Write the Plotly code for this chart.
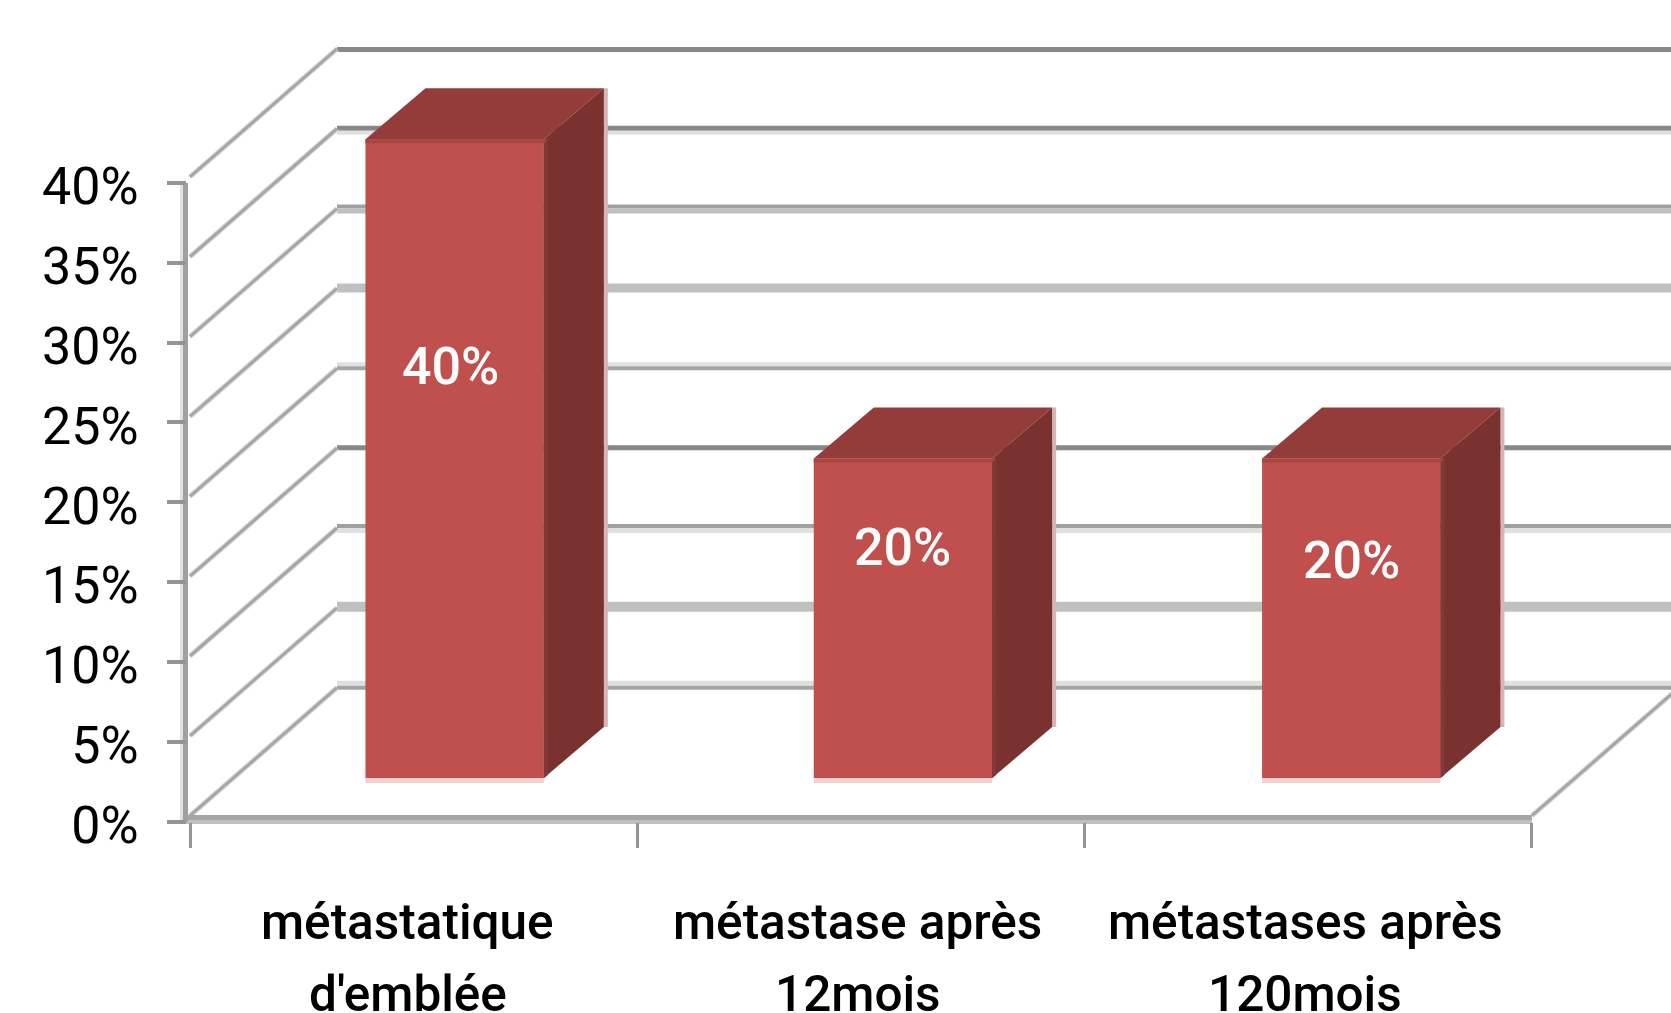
import plotly.graph_objects as go

categories = [["métastatique", "d'emblée"], ["métastase après", "12mois"], ["métastases après", "120mois"]]
values = [40, 20, 20]
value_labels = ["40%", "20%", "20%"]
label_heights = [28.5, 17.2, 16.35]
label_shifts = [-4, 0, 0]
category_shifts = [-6, -3, -3]
y_ticks = [0, 5, 10, 15, 20, 25, 30, 35, 40]

W, H = 1671, 1013
PX_X0, PX_CAT = 190.0, 447.3
PX_Y0, PX_PCT = 821.7, 15.97

# wall depth and bar placement, in axis units
WALL_DX, WALL_DY = 147 / PX_CAT, 134 / PX_PCT
BAR_W, BAR_OFF = 178.4 / PX_CAT, 41 / PX_CAT
BAR_DX, BAR_DY = 60 / PX_CAT, 51 / PX_PCT
BAR_BASE = (PX_Y0 - 778) / PX_PCT
XMAX = (W - PX_X0) / PX_CAT

FRONT, SIDE, TOP = "#C0504D", "#7A3230", "#933C3A"
EDGE_TOP, EDGE_SIDE, PINK, PINK_SIDE = "#A84643", "#843836", "#F2D0D0", "#D8B4B4"

# bands of each back-wall rule, keyed by percent: (pixels above, pixels below, colour)
wall_bands = {
    40: [(2, -3, "#888888")],
    35: [(3, -2, "#888888"), (-2, -6, "#E0E0E0")],
    30: [(4, 0, "#A0A0A0"), (0, -5, "#C0C0C0")],
    25: [(5, -4, "#C0C0C0")],
    20: [(6, 2, "#E0E0E0"), (2, -2, "#A5A5A5")],
    15: [(3, -2, "#888888")],
    10: [(4, 0, "#A0A0A0"), (0, -5, "#E0E0E0")],
    5: [(6, -4, "#C0C0C0")],
    0: [(7, 2, "#E0E0E0"), (2, -2, "#A5A5A5")],
}

fig = go.Figure()
px_y = 1 / PX_PCT
px_x = 1 / PX_CAT


def face(xs, ys, color):
    fig.add_trace(go.Scatter(x=xs, y=ys, mode="lines", fill="toself", fillcolor=color,
                             line=dict(width=0, color=color), hoverinfo="skip", showlegend=False))


shapes = []


def rule(x0, y0, x1, y1, color, width):
    shapes.append(dict(type="line", xref="x", yref="y", x0=x0, y0=y0, x1=x1, y1=y1,
                       line=dict(color=color, width=width), layer="below"))


def diagonal(x0, y0, x1, y1):
    # receding wall edge with a soft fringe
    rule(x0, y0, x1, y1, "#DADADA", 5.2)
    rule(x0, y0, x1, y1, "#A6A6A6", 3)


for tick in y_ticks:
    back_y = tick + WALL_DY
    for above, below, color in wall_bands[tick]:
        mid = (above + below) / 2 * px_y
        rule(WALL_DX, back_y + mid, XMAX, back_y + mid, color, above - below)
    diagonal(0, tick + 6 * px_y, WALL_DX, back_y)

# right edge of the floor
diagonal(3, 6 * px_y, 3 + WALL_DX, WALL_DY)
# floor front edge, two tones
rule(-4 * px_x, 4.2 * px_y, 3, 4.2 * px_y, "#A5A5A5", 5)
rule(-4 * px_x, -0.2 * px_y, 3, -0.2 * px_y, "#C0C0C0", 4)
# vertical axis with its light shade
rule(-8.5 * px_x, 0, -8.5 * px_x, 40, "#E0E0E0", 3)
rule(-4.5 * px_x, 0, -4.5 * px_x, 40, "#A0A0A0", 5)

centers = [i + 0.5 + BAR_OFF + i * px_x for i in range(len(values))]

for center, value in zip(centers, values):
    left = center - BAR_W / 2
    right = left + BAR_W
    bottom, top = BAR_BASE, BAR_BASE + value
    # soft fringes on the bottom and the far side
    face([left, right, right, left, left],
         [bottom - 5 * px_y, bottom - 5 * px_y, bottom, bottom, bottom - 5 * px_y], PINK)
    face([right + BAR_DX, right + BAR_DX + 4 * px_x, right + BAR_DX + 4 * px_x, right + BAR_DX, right + BAR_DX],
         [bottom + BAR_DY, bottom + BAR_DY, top + BAR_DY, top + BAR_DY, bottom + BAR_DY], PINK_SIDE)
    # oblique top and side faces
    face([left, left + BAR_DX, right + BAR_DX, right, left],
         [top, top + BAR_DY, top + BAR_DY, top, top], TOP)
    face([right, right + BAR_DX, right + BAR_DX, right, right],
         [bottom, bottom + BAR_DY, top + BAR_DY, top, bottom], SIDE)
    face([right, right + 4 * px_x, right + 4 * px_x, right, right],
         [bottom, bottom + 3 * px_y, top - 1 * px_y, top, bottom], EDGE_SIDE)

fig.add_trace(go.Bar(x=centers, y=values, base=BAR_BASE, width=BAR_W,
                     marker=dict(color=FRONT, line=dict(width=0)), hoverinfo="skip", showlegend=False))

for center, value in zip(centers, values):
    left = center - BAR_W / 2
    top = BAR_BASE + value
    face([left, left + BAR_W + 4 * px_x, left + BAR_W, left, left],
         [top, top, top - 4 * px_y, top - 4 * px_y, top], EDGE_TOP)

annotations = []
for center, text, height, shift in zip(centers, value_labels, label_heights, label_shifts):
    annotations.append(dict(x=center + shift * px_x, y=height, xref="x", yref="y", text=text,
                            showarrow=False, font=dict(family="Roboto", size=52, color="#FFFFFF", weight=500),
                            xanchor="center", yanchor="middle"))
for i, lines in enumerate(categories):
    for j, line in enumerate(lines):
        annotations.append(dict(x=i + 0.5 + category_shifts[i] * px_x, y=-6.3 - j * 4.5, xref="x", yref="y", text=line,
                                showarrow=False, font=dict(family="Roboto", size=49.5, color="#000000", weight=500),
                                xanchor="center", yanchor="middle"))

fig.update_layout(
    width=W, height=H, margin=dict(l=0, r=0, t=0, b=0), autosize=False,
    paper_bgcolor="#FFFFFF", plot_bgcolor="#FFFFFF", showlegend=False, barmode="overlay",
    xaxis=dict(range=[-PX_X0 / PX_CAT, XMAX], showgrid=False, zeroline=False, showline=False,
               tickmode="array", tickvals=[0, 1, 2, 3], ticktext=["", "", "", ""], ticks="outside",
               ticklen=25, tickwidth=3, tickcolor="#959595",
               anchor="free", position=(H - PX_Y0) / H, fixedrange=True),
    yaxis=dict(range=[-(H - PX_Y0) / PX_PCT, PX_Y0 / PX_PCT], showgrid=False, zeroline=False,
               showline=False,
               tickmode="array", tickvals=y_ticks, ticktext=[f"{t}%" for t in y_ticks], ticks="outside",
               ticklen=19, tickwidth=4, tickcolor="#959595", ticklabelstandoff=18, ticklabelshift=3,
               tickfont=dict(family="Roboto", size=52, color="#000000"),
               anchor="free", position=186 / W, fixedrange=True),
    shapes=shapes, annotations=annotations,
)

fig.write_html("out.html", config={"displayModeBar": False})
